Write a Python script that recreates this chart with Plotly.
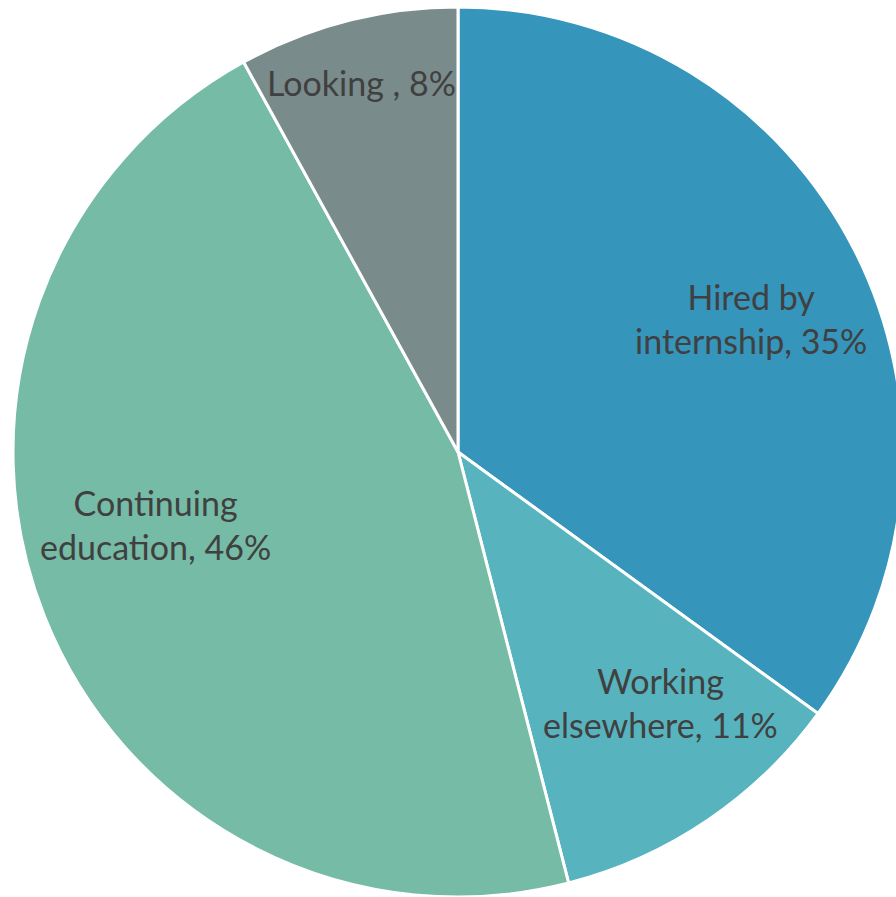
import plotly.graph_objects as go

# Graduate outcomes, share of respondents (%)
categories = ["Hired by internship", "Working elsewhere", "Continuing education", "Looking "]
shares = [35, 11, 46, 8]
colors = ["#3595BB", "#57B4BE", "#75BBA5", "#7A8B8B"]

# label line breaks and placement (paper fractions of the plot area)
label_lines = ["Hired by<br>internship", "Working<br>elsewhere", "Continuing<br>education", "Looking "]
label_pos = [(0.829, 0.650), (0.727, 0.218), (0.160, 0.418), (0.392, 0.915)]

W, H = 903, 897
ML, MT = 13, 7

fig = go.Figure(
    go.Pie(
        labels=categories,
        values=shares,
        sort=False,
        direction="clockwise",
        rotation=0,
        marker=dict(colors=colors, line=dict(color="white", width=3)),
        textinfo="none",
        hoverinfo="label+percent",
        showlegend=False,
    )
)

for text, share, (x, y) in zip(label_lines, shares, label_pos):
    fig.add_annotation(
        x=x, y=y, xref="paper", yref="paper",
        xanchor="center", yanchor="middle",
        text=f"{text}, {share}%",
        showarrow=False,
        font=dict(family="Lato", size=34, color="#404040"),
        align="center",
    )

fig.update_layout(
    width=W, height=H,
    margin=dict(l=ML, r=0, t=MT, b=0, pad=0),
    paper_bgcolor="white",
    plot_bgcolor="white",
)

fig.write_html(
    "out.html",
    post_script="document.documentElement.style.overflow='hidden';document.body.style.overflow='hidden';",
)
